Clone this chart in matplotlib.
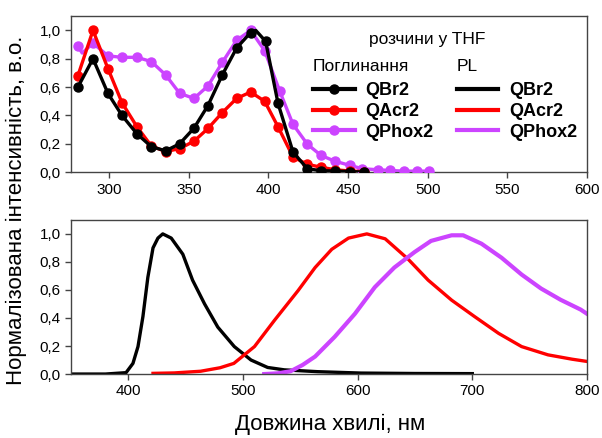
import numpy as np
import matplotlib
matplotlib.use("Agg")
import matplotlib.pyplot as plt
from matplotlib.lines import Line2D

plt.rcParams['font.family'] = ['Liberation Sans', 'DejaVu Sans']

# absorption, nm / normalised (markers on the measured points, extra points unmarked)
abs_br_x = [280.3, 289.8, 299.2, 308, 317.4, 326.4, 335.4, 344.2, 353.2, 362, 371, 380, 388.8,
            392, 398.2, 406, 415.4, 424.4, 433, 441.5, 451, 460]
abs_br_y = [0.60, 0.80, 0.555, 0.40, 0.27, 0.18, 0.15, 0.20, 0.31, 0.47, 0.686, 0.876, 0.985,
            1.0, 0.923, 0.485, 0.142, 0.024, 0.01, 0.008, 0.004, 0.0]
abs_br_unmarked = [13]
abs_acr_x = [280.3, 289.8, 299.2, 308, 317.4, 326.4, 335.4, 344.2, 353.2, 362, 371, 380, 388.8,
             397.6, 406, 415.4, 424.4, 433, 441.5, 451, 460]
abs_acr_y = [0.68, 1.0, 0.73, 0.49, 0.32, 0.185, 0.145, 0.166, 0.218, 0.308, 0.42, 0.52, 0.565,
             0.50, 0.32, 0.107, 0.055, 0.035, 0.017, 0.008, 0.004]
abs_acr_unmarked = []
abs_phox_x = [280.3, 283, 289.8, 299.2, 308, 317.4, 326.4, 335.4, 344.2, 353.2, 362, 371, 380,
              388.8, 397.6, 407, 415.4, 424.4, 433, 441.5, 451, 459, 468.5, 476, 485, 493, 501]
abs_phox_y = [0.89, 0.84, 0.91, 0.82, 0.81, 0.81, 0.78, 0.686, 0.556, 0.52, 0.608, 0.774, 0.93,
              1.0, 0.857, 0.573, 0.337, 0.197, 0.118, 0.078, 0.048, 0.024, 0.017, 0.012, 0.007,
              0.007, 0.007]
abs_phox_unmarked = [1]

# photoluminescence
pl_br_x = [350, 380, 398, 404, 408.4, 412.7, 417, 421.5, 425.8, 430, 437.4, 447.5, 456, 466.5,
           478, 492.4, 507, 521.5, 536, 565, 603, 650, 700]
pl_br_y = [0.0, 0.0, 0.01, 0.076, 0.196, 0.41, 0.69, 0.90, 0.97, 1.0, 0.97, 0.855, 0.67, 0.50,
           0.335, 0.196, 0.10, 0.047, 0.03, 0.017, 0.007, 0.004, 0.003]
pl_acr_x = [421.5, 440, 463, 480, 492, 510, 527.6, 548, 562.9, 577.4, 592, 608, 624, 644, 661.5,
            682, 702, 723, 743, 766, 787, 800]
pl_acr_y = [0.005, 0.008, 0.02, 0.045, 0.076, 0.196, 0.385, 0.595, 0.76, 0.89, 0.97, 1.0, 0.965,
            0.82, 0.67, 0.527, 0.41, 0.29, 0.196, 0.137, 0.106, 0.09]
pl_phox_x = [518.5, 530, 541.5, 552, 562.9, 580, 597.6, 615, 632, 649.6, 664, 682, 692, 708,
             725.5, 743, 760, 777, 794.5, 800]
pl_phox_y = [0.0, 0.005, 0.02, 0.065, 0.125, 0.266, 0.43, 0.62, 0.76, 0.87, 0.95, 0.99, 0.99,
             0.93, 0.83, 0.71, 0.61, 0.53, 0.46, 0.43]

names = ["QBr2", "QAcr2", "QPhox2"]
colors = ["black", "#ff0000", "#cc44ff"]

fig = plt.figure(figsize=(6.02, 4.38), dpi=100)
ax1 = fig.add_axes([0.118, 0.607, 0.857, 0.356])
ax2 = fig.add_axes([0.118, 0.146, 0.857, 0.352])

lw = 2.4
abs_sets = [(abs_br_x, abs_br_y, abs_br_unmarked), (abs_acr_x, abs_acr_y, abs_acr_unmarked),
            (abs_phox_x, abs_phox_y, abs_phox_unmarked)]
for (x, y, skip), c in zip(abs_sets[::-1], colors[::-1]):
    every = [i for i in range(len(x)) if i not in skip]
    ax1.plot(x, y, color=c, lw=lw, marker="o", ms=6.5, markevery=every, zorder=3)
abs_handles = [Line2D([], [], color=c, lw=lw + 0.6, marker="o", ms=6.5, label=n)
               for c, n in zip(colors, names)]

pl_sets = [(pl_br_x, pl_br_y), (pl_acr_x, pl_acr_y), (pl_phox_x, pl_phox_y)]
for (x, y), c, n in zip(pl_sets, colors, names):
    ax2.plot(x, y, color=c, lw=lw if n != "QPhox2" else 3.0)
pl_handles = [Line2D([], [], color=c, lw=lw + 0.6, label=n) for c, n in zip(colors, names)]

ax1.set_xlim(276, 600)
ax1.set_xticks([300, 350, 400, 450, 500, 550, 600])
ax2.set_xlim(350, 800)
ax2.set_xticks([400, 500, 600, 700, 800])
for ax in (ax1, ax2):
    ax.set_ylim(0, 1.1)
    ax.set_yticks([0, 0.2, 0.4, 0.6, 0.8, 1.0])
    ax.set_yticklabels(["0,0", "0,2", "0,4", "0,6", "0,8", "1,0"])
    ax.tick_params(labelsize=11, direction="out", length=4, width=1, color="#444444",
                   top=False, right=False)
    for s in ax.spines.values():
        s.set_color("#444444")
        s.set_linewidth(1)

bold = {"weight": "bold", "size": 13}
leg_kw = dict(prop=bold, frameon=False, loc="upper left", alignment="left",
              handlelength=2.3, handletextpad=0.6, labelspacing=0.2, borderpad=0,
              borderaxespad=0, title_fontproperties={"size": 12.5})
leg1 = ax1.legend(handles=abs_handles, title="Поглинання", bbox_to_anchor=(0.469, 0.725),
                  **leg_kw)
leg1._legend_box.sep = 6
ax1.add_artist(leg1)
leg2 = ax1.legend(handles=pl_handles, title="PL", bbox_to_anchor=(0.748, 0.725), **leg_kw)
leg2._legend_box.sep = 6
ax1.text(0.69, 0.85, "розчини у THF", transform=ax1.transAxes, ha="center", va="center",
         fontsize=12.5)

fig.text(0.028, 0.52, "Нормалізована інтенсивність, в.о.", rotation=90, ha="center",
         va="center", fontsize=16)
fig.text(0.548, 0.03, "Довжина хвилі, нм", ha="center", va="center", fontsize=16)

fig.savefig("out.png", dpi=100)
